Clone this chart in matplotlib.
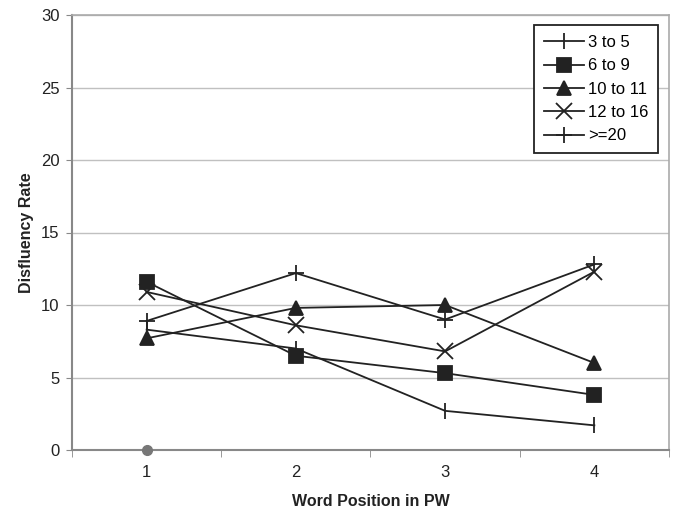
import numpy as np
import matplotlib
matplotlib.use("Agg")
import matplotlib.pyplot as plt

plt.rcParams['font.family'] = ['Liberation Sans', 'DejaVu Sans']

positions = [1, 2, 3, 4]
labels = ["3 to 5", "6 to 9", "10 to 11", "12 to 16", ">=20"]
v_3to5 = [8.3, 7.0, 2.7, 1.7]
v_6to9 = [11.6, 6.5, 5.3, 3.8]
v_10to11 = [7.7, 9.8, 10.0, 6.0]
v_12to16 = [10.9, 8.6, 6.8, 12.3]
v_20plus = [8.9, 12.2, 9.0, 12.8]
stray_x = [1]
stray_y = [0]

series = [v_3to5, v_6to9, v_10to11, v_12to16, v_20plus]
markers = ['|', 's', '^', 'x', '+']
msizes = [12, 10, 10, 11, 12]

fig = plt.figure(figsize=(6.89, 5.2), dpi=100)
ax = fig.add_axes([72/689, 1-450/520, (669-72)/689, (450-15)/520])

col = '#222222'
for vals, lab, m, ms in zip(series, labels, markers, msizes):
	ax.plot(positions, vals, color=col, linewidth=1.3, marker=m, markersize=ms,
		markeredgewidth=1.3, markerfacecolor=col, markeredgecolor=col, label=lab)

ax.plot(stray_x, stray_y, 'o', color='#777777', markersize=7, clip_on=False, zorder=5)

ax.set_xlim(0.5, 4.5)
ax.set_ylim(0, 30)
ax.set_yticks(np.arange(0, 31, 5))
ax.set_xticks([1, 2, 3, 4])
ax.set_xticks([0.5, 1.5, 2.5, 3.5, 4.5], minor=True)
ax.tick_params(axis='x', which='major', length=0, pad=11, labelsize=12, labelcolor='#222222')
ax.tick_params(axis='x', which='minor', length=5, color='#888888', direction='out')
ax.tick_params(axis='y', length=4, color='#888888', direction='out', labelsize=12, labelcolor='#222222', pad=5)

ax.grid(axis='y', color='#c0c0c0', linewidth=1)
ax.set_axisbelow(True)
for s in ['left', 'bottom']:
	ax.spines[s].set_color('#888888')
	ax.spines[s].set_linewidth(1.5)
for s in ['top', 'right']:
	ax.spines[s].set_color('#aaaaaa')
	ax.spines[s].set_linewidth(1.2)

ax.set_xlabel("Word Position in PW", fontsize=11.5, fontweight='bold', color='#222222', labelpad=10)
ax.set_ylabel("Disfluency Rate", fontsize=11.5, fontweight='bold', color='#222222', labelpad=5)

leg = ax.legend(loc='upper right', bbox_to_anchor=(0.9816, 0.977), borderaxespad=0, fontsize=12,
	fancybox=False, edgecolor='#222222', framealpha=1, handlelength=2.4, labelspacing=0.5,
	handletextpad=0.2, borderpad=0.6)
leg.get_frame().set_linewidth(1.3)

fig.savefig("out.png", dpi=100)
